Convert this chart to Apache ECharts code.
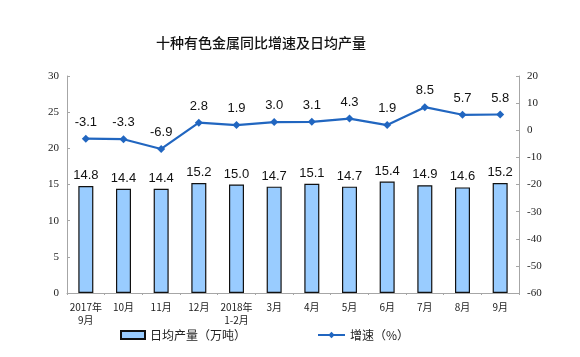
<!DOCTYPE html>
<html><head><meta charset="utf-8">
<script src="https://cdn.jsdelivr.net/npm/echarts@6/dist/echarts.min.js"></script>
<style>html,body{margin:0;padding:0;background:#fff}#c{width:580px;height:357px}</style>
</head><body><div id="c"></div>
<script>
const categories = ['2017年\n9月','10月','11月','12月','2018年\n1-2月','3月','4月','5月','6月','7月','8月','9月'];
const output = [14.8,14.4,14.4,15.2,15.0,14.7,15.1,14.7,15.4,14.9,14.6,15.2];
const growth = [-3.1,-3.3,-6.9,2.8,1.9,3.0,3.1,4.3,1.9,8.5,5.7,5.8];
const barName = '日均产量（万吨）';
const lineName = '增速（%）';
const chart = echarts.init(document.getElementById('c'));
const serif = '"Liberation Serif","DejaVu Serif",serif';
const cjk = '"Noto Sans CJK SC",sans-serif';
const axisCommon = {
  axisLine:{show:true,lineStyle:{color:'#a6a6a6'}},
  axisTick:{show:true,inside:true,length:3,lineStyle:{color:'#a6a6a6'}},
  splitLine:{show:false},
  axisLabel:{color:'#222',fontFamily:serif,fontSize:11}
};
const legendText = {fontSize:12,color:'#222',fontFamily:cjk};
chart.setOption({
  animation:false,
  title:{text:'十种有色金属同比增速及日均产量',left:151,top:31,
    textStyle:{fontSize:14,fontWeight:500,color:'#111',fontFamily:cjk}},
  grid:{left:67,right:61,top:76,bottom:64},
  legend:[
    {top:329,left:120,padding:0,itemWidth:24,itemHeight:8,itemGap:4,textStyle:legendText,
      data:[{name:barName,icon:'rect'}]},
    {top:329,left:317,padding:0,itemWidth:27,itemHeight:8,textStyle:legendText,
      data:[{name:lineName}]}
  ],
  xAxis:{type:'category',data:categories,
    axisLine:{lineStyle:{color:'#a6a6a6'}},
    axisTick:{show:true,length:2,lineStyle:{color:'#a6a6a6'}},
    axisLabel:{color:'#222',fontFamily:'"Noto Sans CJK SC",serif',fontSize:10,interval:0,lineHeight:13}},
  yAxis:[
    Object.assign({type:'value',min:0,max:30,interval:5,position:'left'},axisCommon),
    Object.assign({type:'value',min:-60,max:20,interval:10,position:'right'},axisCommon)
  ],
  series:[
    {name:barName,type:'bar',data:output,barWidth:15,
      itemStyle:{color:'#99ccff',borderColor:'#111',borderWidth:1.2},
      label:{show:true,position:'top',formatter:p=>p.value.toFixed(1),fontSize:13,color:'#111',fontFamily:'"Liberation Sans",Arial,sans-serif',distance:4}},
    {name:lineName,type:'line',yAxisIndex:1,data:growth,symbol:'diamond',symbolSize:8,
      lineStyle:{color:'#2166c0',width:2.2},itemStyle:{color:'#2166c0'},
      label:{show:true,position:'top',formatter:p=>p.value.toFixed(1),fontSize:13,color:'#111',fontFamily:'"Liberation Sans",Arial,sans-serif',distance:6}}
  ]
});
</script></body></html>
